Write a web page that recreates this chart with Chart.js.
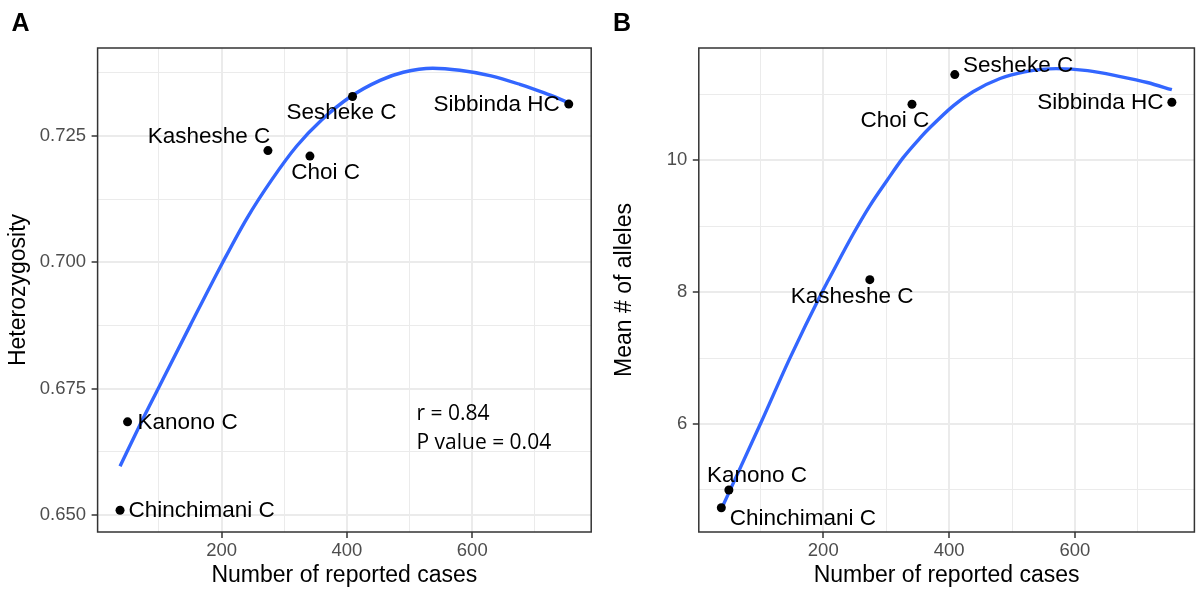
<!DOCTYPE html>
<html><head><meta charset="utf-8">
<script src="https://cdn.jsdelivr.net/npm/chart.js@4"></script>
<style>
html,body{margin:0;padding:0;background:#fff;}
#wrap{position:relative;width:1199px;height:592px;overflow:hidden;background:#fff;}
.panel{position:absolute;top:0;}
canvas{display:block;}
</style></head><body>
<div id="wrap">
<div class="panel" style="left:0;width:600px;height:592px"><canvas id="cA" width="600" height="592"></canvas></div>
<div class="panel" style="left:600px;width:599px;height:592px"><canvas id="cB" width="599" height="592"></canvas></div>
</div>
<script>
// ---------- data ----------
const sites = ["Chinchimani C", "Kanono C", "Kasheshe C", "Choi C", "Sesheke C", "Sibbinda HC"];
const reportedCases = [38, 50, 274, 341, 409, 754];
const heterozygosity = [0.6509, 0.6684, 0.7221, 0.7210, 0.7328, 0.7313];
const meanAlleles = [4.73, 5.00, 8.19, 10.85, 11.30, 10.88];

// smooth fit curves
const fitA_x = [38, 73, 99, 150, 202, 240, 280, 320, 360, 405, 453, 490, 537, 580, 630, 676, 715, 754];
const fitA_y = [0.6596, 0.6686, 0.6750, 0.6875, 0.7000, 0.7086, 0.7163, 0.7230, 0.7282, 0.7327, 0.7360, 0.7376, 0.7384, 0.7380, 0.7369, 0.7352, 0.7335, 0.7316];
const fitB_x = [38, 100, 147, 198, 208, 248, 274, 301, 327, 354, 370, 407, 438, 481, 520, 570, 620, 672, 715, 754];
const fitB_y = [4.71, 6.00, 7.00, 8.00, 8.18, 8.89, 9.31, 9.69, 10.04, 10.34, 10.50, 10.83, 11.04, 11.24, 11.34, 11.39, 11.36, 11.27, 11.18, 11.07];

// ticks
const xMajorTicks = [200, 400, 600];
const xMinorTicks = [100, 300, 500, 700];
const yMajorTicksA = [0.650, 0.675, 0.700, 0.725];
const yMinorTicksA = [0.6625, 0.6875, 0.7125, 0.7375];
const yMajorTicksB = [6, 8, 10];
const yMinorTicksB = [5, 7, 9, 11];

const statsLines = ["r = 0.84", "P value = 0.04"];
const statsAnchor = {x: 511, y: 0.6699, y2: 0.6643};

// ---------- styling / layout ----------
const FONT = '"Liberation Sans", Arial, Helvetica, sans-serif';
const BLUE = '#3366FF';
const labelLayoutA = [
  {align: 'left', dx: 8.4, dy: 0.7},
  {align: 'left', dx: 10, dy: 0.6},
  {align: 'right', dx: 2.3, dy: -14},
  {align: 'left', dx: -18.6, dy: 16.6},
  {align: 'right', dx: 44, dy: 16.6},
  {align: 'right', dx: -9, dy: 0.7}
];
const labelLayoutB = [
  {align: 'left', dx: 8.3, dy: 10.6},
  {align: 'left', dx: -22, dy: -14.3},
  {align: 'left', dx: -79, dy: 17},
  {align: 'left', dx: -51.6, dy: 17},
  {align: 'left', dx: 8.3, dy: -9},
  {align: 'right', dx: -8.4, dy: 0.6}
];

function near(list, v) { return list.some(t => Math.abs(t - v) < 1e-7); }

function decoPlugin(cfg) {
  return {
    id: 'deco' + cfg.letter,
    afterDatasetsDraw(chart) {
      const {ctx, chartArea: ca, scales: {x, y}} = chart;
      ctx.save();
      ctx.font = '22.5px ' + FONT;
      ctx.fillStyle = '#000';
      ctx.textBaseline = 'middle';
      cfg.names.forEach((name, i) => {
        const px = x.getPixelForValue(cfg.xs[i]);
        const py = y.getPixelForValue(cfg.ys[i]);
        const l = cfg.layout[i];
        ctx.textAlign = l.align;
        ctx.fillText(name, px + l.dx, py + l.dy);
      });
      if (cfg.note) {
        ctx.font = '21px "Open Sans", sans-serif';
        ctx.textAlign = 'left';
        const nx = x.getPixelForValue(cfg.note.anchor.x);
        ctx.fillText(cfg.note.lines[0], nx, y.getPixelForValue(cfg.note.anchor.y));
        ctx.fillText(cfg.note.lines[1], nx, y.getPixelForValue(cfg.note.anchor.y2));
      }
      ctx.strokeStyle = '#333333';
      ctx.lineWidth = 1.5;
      ctx.strokeRect(ca.left, ca.top, ca.right - ca.left, ca.bottom - ca.top);
      ctx.font = 'bold 25px ' + FONT;
      ctx.textAlign = 'left';
      ctx.textBaseline = 'alphabetic';
      ctx.fillText(cfg.letter, cfg.letterX, 30.7);
      ctx.restore();
    }
  };
}

function makeChart(id, o) {
  const allX = xMajorTicks.concat(xMinorTicks).sort((a, b) => a - b);
  const allY = o.yMajor.concat(o.yMinor).sort((a, b) => a - b);
  const pts = o.xs.map((v, i) => ({x: v, y: o.ys[i]}));
  const fit = o.fx.map((v, i) => ({x: v, y: o.fy[i]}));
  return new Chart(document.getElementById(id), {
    type: 'scatter',
    data: {
      datasets: [
        {data: pts, backgroundColor: '#000', borderWidth: 0, pointRadius: 4.5, order: 0},
        {type: 'line', data: fit, showLine: true, borderColor: BLUE, borderWidth: 3.4,
         pointRadius: 0, fill: false, cubicInterpolationMode: 'monotone', order: 1}
      ]
    },
    options: {
      responsive: false, animation: false, devicePixelRatio: 1, events: [],
      layout: {padding: {left: 0, right: o.padRight, top: 48, bottom: 0}},
      plugins: {legend: {display: false}, tooltip: {enabled: false}},
      scales: {
        x: {
          type: 'linear', min: 2.2, max: 789.8,
          afterBuildTicks: s => { s.ticks = allX.map(v => ({value: v})); },
          afterFit: s => { s.height = 60; },
          ticks: {
            callback: v => near(xMajorTicks, v) ? String(v) : '',
            color: '#4D4D4D', font: {family: FONT, size: 18.5, lineHeight: 1},
            padding: 4, maxRotation: 0, autoSkip: false
          },
          grid: {
            color: '#EBEBEB',
            lineWidth: c => near(xMajorTicks, c.tick.value) ? 2 : 1,
            tickColor: c => near(xMajorTicks, c.tick.value) ? '#333333' : 'rgba(0,0,0,0)',
            tickLength: 6, tickWidth: 1.5, drawTicks: true
          },
          border: {display: false},
          title: {display: true, text: 'Number of reported cases', color: '#000',
                  font: {family: FONT, size: 23, lineHeight: 1}, padding: {top: 0, bottom: 5.2}}
        },
        y: {
          type: 'linear', min: o.yMin, max: o.yMax,
          afterBuildTicks: s => { s.ticks = allY.map(v => ({value: v})); },
          afterFit: s => { s.width = o.yWidth; },
          ticks: {
            callback: v => near(o.yMajor, v) ? o.fmt(v) : '',
            color: '#4D4D4D', font: {family: FONT, size: 18.5, lineHeight: 1},
            padding: 5.5, autoSkip: false
          },
          grid: {
            color: '#EBEBEB',
            lineWidth: c => near(o.yMajor, c.tick.value) ? 2 : 1,
            tickColor: c => near(o.yMajor, c.tick.value) ? '#333333' : 'rgba(0,0,0,0)',
            tickLength: 6, tickWidth: 1.5, drawTicks: true
          },
          border: {display: false},
          title: {display: true, text: o.yTitle, color: '#000',
                  font: {family: FONT, size: 23, lineHeight: 1}, padding: {top: o.yTitlePad, bottom: 0}}
        }
      }
    },
    plugins: [decoPlugin({letter: o.letter, letterX: o.letterX, names: sites, xs: o.xs, ys: o.ys,
                          layout: o.layout, note: o.note})]
  });
}

makeChart('cA', {
  xs: reportedCases, ys: heterozygosity, fx: fitA_x, fy: fitA_y,
  yMin: 0.6466, yMax: 0.7424, yMajor: yMajorTicksA, yMinor: yMinorTicksA,
  fmt: v => v.toFixed(3), yTitle: 'Heterozygosity', yTitlePad: 6.7,
  yWidth: 97.6, padRight: 8.8, letter: 'A', letterX: 11.5, layout: labelLayoutA,
  note: {lines: statsLines, anchor: statsAnchor}
});
makeChart('cB', {
  xs: reportedCases, ys: meanAlleles, fx: fitB_x, fy: fitB_y,
  yMin: 4.363, yMax: 11.703, yMajor: yMajorTicksB, yMinor: yMinorTicksB,
  fmt: v => String(v), yTitle: 'Mean # of alleles', yTitlePad: 13.4,
  yWidth: 98.8, padRight: 4.6, letter: 'B', letterX: 13, layout: labelLayoutB,
  note: null
});
</script>
</body></html>
